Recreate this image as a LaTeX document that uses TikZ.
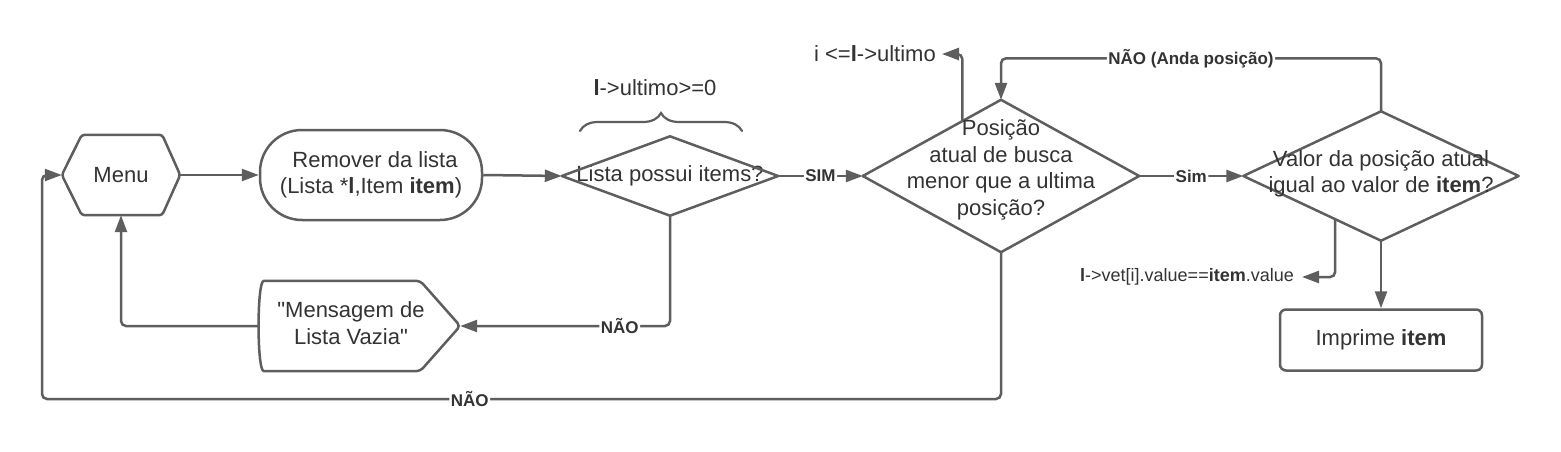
\documentclass[tikz,border=0pt]{standalone}
\usepackage{fontspec}
\setmainfont{Liberation Sans}
\newfontfamily\qfont{Liberation Sans}
\usetikzlibrary{arrows.meta,calc,decorations.pathreplacing}
\definecolor{ln}{HTML}{5E5E5E}
\definecolor{tx}{HTML}{333333}
\begin{document}
\begin{tikzpicture}[x=1pt,y=-1pt,
  every node/.style={font=\fontsize{22}{26.5}\selectfont, text=tx},
  box/.style={draw=none, inner sep=0pt, align=center},
  shp/.style={draw=ln, line width=2.5pt, line join=round},
  conn/.style={draw=ln, line width=2.5pt, -{Triangle[length=17pt,width=12pt]}, rounded corners=5pt},
  lab/.style={font=\bfseries\fontsize{17}{19}\selectfont, fill=white, inner sep=1.5pt},
]
\fill[white] (0,0) rectangle (1561,452);
\useasboundingbox (0,0) rectangle (1561,452);

% Menu
\node[box, minimum width=118pt, minimum height=80pt] (menu) at (121,175) {Menu};
\draw[shp, rounded corners=3pt] (menu.west) -- ([xshift=20pt]menu.north west) -- ([xshift=-18pt]menu.north east) -- (menu.east) -- ([xshift=-18pt]menu.south east) -- ([xshift=20pt]menu.south west) -- cycle;

% Remover
\node[shp, rounded corners=42pt, minimum width=222pt, minimum height=90pt, align=center] (rem) at (371,175) {\hspace*{8pt}Remover da lista\\(Lista *\textbf{l},Item \textbf{item})};

% Diamond 1
\node[box, minimum width=216pt, minimum height=79pt] (d1) at (670,176) {Lista possui items?};
\draw[shp] (d1.west) -- (d1.north) -- (d1.east) -- (d1.south) -- cycle;
\draw[draw=ln, line width=2.2pt, line cap=round, decorate, decoration={brace, amplitude=18pt}] (580,131) -- (742,131);
\node (c1) at (655,88) {\textbf{l}->ultimo>=0};

% Diamond 2
\node[box, minimum width=276pt, minimum height=152pt] (d2) at (1001,176) {};
\draw[shp] (d2.west) -- (d2.north) -- (d2.east) -- (d2.south) -- cycle;
\node[align=center] (d2t) at (1001,170) {Posição\\atual de busca\\menor que a ultima\\posição?};

% Diamond 3
\node[box, minimum width=275pt, minimum height=129pt] (d3) at (1381,176) {};
\draw[shp] (d3.west) -- (d3.north) -- (d3.east) -- (d3.south) -- cycle;
\node[align=center] (d3t) at (1381,174) {Valor da posição atual\\igual ao valor de \textbf{item}?};

% Imprime
\node[shp, rounded corners=6pt, minimum width=202pt, minimum height=61pt] (imp) at (1381,340) {Imprime \textbf{item}};

% Mensagem
\node[box, minimum width=200pt, minimum height=90pt] (msg) at (360,326) {};
\draw[shp, rounded corners=4pt] ([xshift=8pt]msg.south west) .. controls ([xshift=-3pt]msg.south west) and ([xshift=-3pt]msg.north west) .. ([xshift=8pt]msg.north west) -- ([xshift=-40pt]msg.north east) -- (msg.east) -- ([xshift=-40pt]msg.south east) -- cycle;
\node[align=center] (msgt) at (351,323) {{\qfont"}Mensagem de\\Lista Vazia{\qfont"}};

% side labels
\node[anchor=east, inner xsep=6pt] (ulab) at (942,54) {i <=\textbf{l}->ultimo};
\node[anchor=east, inner xsep=8pt, font=\fontsize{18}{20}\selectfont] (vlab) at (1302,277) {\textbf{l}->vet[i].value==\textbf{item}.value};

\coordinate (u1) at ($(d2.west)!0.72!(d2.north)$);
\coordinate (v1) at ($(d3.west)!0.667!(d3.south)$);
\coordinate (t3) at ($(d3.north)+(0,-53)$);
\coordinate (bl) at (42,399);

% connectors
\draw[conn] (menu.east) -- (rem.west);
\draw[conn] (rem.east) -- (d1.west);
\draw[conn] (d1.east) -- node[lab]{SIM} (d2.west);
\draw[conn] (d2.east) -- node[lab]{Sim} (d3.west);
\draw[conn] (d3.south) -- (imp.north);
\draw[conn] (v1) |- (vlab.east);
\draw[conn] (u1) |- (ulab.east);
\draw[conn] (d3.north) -- (t3) -| node[lab, pos=0.25]{NÃO (Anda posição)} (d2.north);
\draw[conn] (d1.south) |- node[lab, pos=0.62]{NÃO} (msg.east);
\draw[conn] (msg.west) -| (menu.south);
\draw[conn] (d2.south) |- node[lab, pos=0.777]{NÃO} (bl) |- (menu.west);
\end{tikzpicture}
\end{document}
